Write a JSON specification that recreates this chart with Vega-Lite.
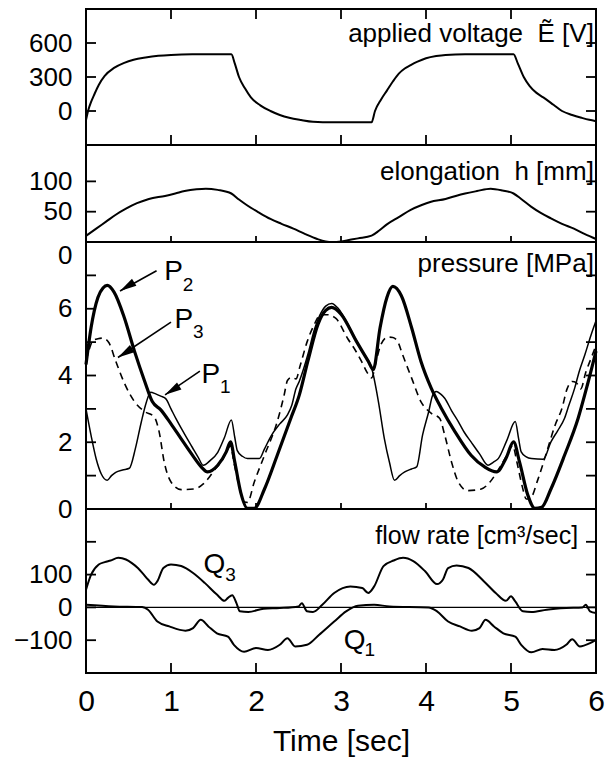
{
"$schema": "https://vega.github.io/schema/vega-lite/v6.json",
"padding": {"left": 12, "top": 8, "right": 8, "bottom": 4},
"bounds": "flush",
"spacing": 0,
"config": {
 "font": "Liberation Sans",
 "view": {"stroke": "black", "strokeWidth": 2},
 "axis": {"grid": false, "domain": false, "ticks": false, "labelColor": "black", "labelFontSize": 26, "labelPadding": 14, "labelFont": "Liberation Sans", "labelOverlap": false, "labelFlush": false, "titleColor": "black", "titleFont": "Liberation Sans", "titleFontWeight": "normal"},
 "axisX": {"labelFontSize": 30, "labelPadding": 13, "titleFontSize": 30, "titlePadding": 10, "format": "d"},
 "text": {"font": "Liberation Sans", "color": "black"},
 "tick": {"color": "black", "thickness": 1.8, "size": 20, "opacity": 1}
},
"datasets": {
 "xt": [{"v":1},{"v":2},{"v":3},{"v":4},{"v":5}],
 "vt": [{"v":0},{"v":300},{"v":600}],
 "ht": [{"v":50},{"v":100}],
 "pt": [{"v":1},{"v":2},{"v":3},{"v":4},{"v":5},{"v":6},{"v":7}],
 "qt": [{"v":-100},{"v":0},{"v":100},{"v":200}],
 "volt": [
  {"t":0,"v":-80},{"t":0.03,"v":15},{"t":0.06,"v":80},{"t":0.1,"v":150},{"t":0.15,"v":230},{"t":0.22,"v":310},{"t":0.33,"v":380},{"t":0.45,"v":425},{"t":0.56,"v":452},{"t":0.7,"v":472},{"t":0.85,"v":487},{"t":1.0,"v":495},{"t":1.25,"v":500},{"t":1.71,"v":500},
  {"t":1.75,"v":420},{"t":1.8,"v":300},{"t":1.87,"v":200},{"t":1.94,"v":120},{"t":2.05,"v":50},{"t":2.17,"v":0},{"t":2.28,"v":-35},{"t":2.39,"v":-60},{"t":2.53,"v":-80},{"t":2.67,"v":-95},{"t":2.9,"v":-100},{"t":3.36,"v":-100},
  {"t":3.4,"v":0},{"t":3.47,"v":100},{"t":3.54,"v":180},{"t":3.61,"v":260},{"t":3.68,"v":330},{"t":3.75,"v":375},{"t":3.82,"v":405},{"t":3.9,"v":435},{"t":4.0,"v":465},{"t":4.12,"v":485},{"t":4.23,"v":495},{"t":4.46,"v":500},{"t":5.03,"v":500},
  {"t":5.08,"v":420},{"t":5.15,"v":300},{"t":5.22,"v":220},{"t":5.3,"v":160},{"t":5.38,"v":120},{"t":5.5,"v":55},{"t":5.6,"v":0},{"t":5.72,"v":-35},{"t":5.83,"v":-60},{"t":5.92,"v":-78},{"t":6.0,"v":-90}
 ],
 "elong": [
  {"t":0,"h":10},{"t":0.12,"h":22},{"t":0.24,"h":34},{"t":0.35,"h":45},{"t":0.47,"h":55},{"t":0.6,"h":64},{"t":0.74,"h":71},{"t":0.93,"h":76},{"t":1.05,"h":80},{"t":1.16,"h":84},{"t":1.3,"h":87},{"t":1.41,"h":88},{"t":1.55,"h":86},{"t":1.71,"h":80},{"t":1.8,"h":70},{"t":1.89,"h":61},{"t":2.03,"h":49},{"t":2.17,"h":38},{"t":2.3,"h":30},{"t":2.44,"h":22},{"t":2.58,"h":13},{"t":2.72,"h":5},{"t":2.82,"h":1},{"t":2.9,"h":0},{"t":3.0,"h":1},{"t":3.08,"h":3},{"t":3.2,"h":6},{"t":3.36,"h":10.5},{"t":3.45,"h":19},{"t":3.54,"h":29},{"t":3.68,"h":41},{"t":3.82,"h":53},{"t":3.95,"h":61},{"t":4.05,"h":66},{"t":4.23,"h":71},{"t":4.35,"h":76},{"t":4.46,"h":80},{"t":4.6,"h":84},{"t":4.76,"h":88},{"t":4.9,"h":85},{"t":5.03,"h":80},{"t":5.12,"h":71},{"t":5.24,"h":58},{"t":5.35,"h":48},{"t":5.47,"h":39},{"t":5.6,"h":30},{"t":5.74,"h":22},{"t":5.87,"h":13},{"t":6.0,"h":5}
 ],
 "press": [
  {"s":"P2","t":0,"p":4.33},{"s":"P2","t":0.06,"p":5.44},{"s":"P2","t":0.14,"p":6.34},{"s":"P2","t":0.2,"p":6.62},{"s":"P2","t":0.25,"p":6.7},{"s":"P2","t":0.33,"p":6.5},{"s":"P2","t":0.45,"p":5.74},{"s":"P2","t":0.57,"p":4.73},{"s":"P2","t":0.69,"p":3.83},{"s":"P2","t":0.78,"p":3.22},{"s":"P2","t":0.88,"p":2.97},{"s":"P2","t":1.0,"p":2.55},{"s":"P2","t":1.12,"p":2.1},{"s":"P2","t":1.25,"p":1.62},{"s":"P2","t":1.36,"p":1.25},{"s":"P2","t":1.43,"p":1.11},{"s":"P2","t":1.55,"p":1.31},{"s":"P2","t":1.65,"p":1.71},{"s":"P2","t":1.7,"p":2.01},{"s":"P2","t":1.75,"p":1.41},{"s":"P2","t":1.82,"p":0.5},{"s":"P2","t":1.9,"p":0.02},{"s":"P2","t":1.98,"p":0.02},{"s":"P2","t":2.1,"p":0.6},{"s":"P2","t":2.25,"p":1.61},{"s":"P2","t":2.41,"p":2.72},{"s":"P2","t":2.51,"p":3.42},{"s":"P2","t":2.61,"p":4.43},{"s":"P2","t":2.73,"p":5.54},{"s":"P2","t":2.82,"p":5.95},{"s":"P2","t":2.89,"p":6.04},{"s":"P2","t":3.0,"p":5.84},{"s":"P2","t":3.18,"p":5.03},{"s":"P2","t":3.32,"p":4.43},{"s":"P2","t":3.38,"p":4.18},{"s":"P2","t":3.46,"p":5.44},{"s":"P2","t":3.54,"p":6.34},{"s":"P2","t":3.61,"p":6.67},{"s":"P2","t":3.71,"p":6.39},{"s":"P2","t":3.83,"p":5.44},{"s":"P2","t":3.94,"p":4.43},{"s":"P2","t":4.06,"p":3.63},{"s":"P2","t":4.18,"p":3.02},{"s":"P2","t":4.34,"p":2.32},{"s":"P2","t":4.53,"p":1.61},{"s":"P2","t":4.69,"p":1.26},{"s":"P2","t":4.83,"p":1.11},{"s":"P2","t":4.94,"p":1.51},{"s":"P2","t":5.03,"p":2.01},{"s":"P2","t":5.1,"p":1.41},{"s":"P2","t":5.2,"p":0.4},{"s":"P2","t":5.28,"p":0.02},{"s":"P2","t":5.36,"p":0.05},{"s":"P2","t":5.47,"p":0.6},{"s":"P2","t":5.63,"p":1.61},{"s":"P2","t":5.79,"p":2.72},{"s":"P2","t":5.9,"p":3.73},{"s":"P2","t":6.0,"p":4.73},
  {"s":"P1","t":0,"p":3.0},{"s":"P1","t":0.06,"p":2.2},{"s":"P1","t":0.12,"p":1.5},{"s":"P1","t":0.18,"p":1.05},{"s":"P1","t":0.25,"p":0.86},{"s":"P1","t":0.3,"p":1.0},{"s":"P1","t":0.35,"p":1.1},{"s":"P1","t":0.43,"p":1.17},{"s":"P1","t":0.51,"p":1.22},{"s":"P1","t":0.58,"p":1.8},{"s":"P1","t":0.65,"p":2.6},{"s":"P1","t":0.71,"p":3.2},{"s":"P1","t":0.76,"p":3.5},{"s":"P1","t":0.82,"p":3.45},{"s":"P1","t":0.88,"p":3.38},{"s":"P1","t":0.94,"p":3.3},{"s":"P1","t":1.0,"p":3.0},{"s":"P1","t":1.06,"p":2.7},{"s":"P1","t":1.12,"p":2.42},{"s":"P1","t":1.18,"p":2.15},{"s":"P1","t":1.25,"p":1.85},{"s":"P1","t":1.32,"p":1.55},{"s":"P1","t":1.38,"p":1.31},{"s":"P1","t":1.46,"p":1.45},{"s":"P1","t":1.55,"p":1.7},{"s":"P1","t":1.63,"p":2.15},{"s":"P1","t":1.71,"p":2.67},{"s":"P1","t":1.75,"p":2.15},{"s":"P1","t":1.78,"p":1.75},{"s":"P1","t":1.84,"p":1.58},{"s":"P1","t":1.9,"p":1.51},{"s":"P1","t":2.04,"p":1.51},{"s":"P1","t":2.1,"p":1.8},{"s":"P1","t":2.18,"p":2.2},{"s":"P1","t":2.28,"p":2.55},{"s":"P1","t":2.37,"p":2.82},{"s":"P1","t":2.42,"p":3.1},{"s":"P1","t":2.47,"p":3.6},{"s":"P1","t":2.51,"p":3.83},{"s":"P1","t":2.56,"p":4.2},{"s":"P1","t":2.61,"p":4.63},{"s":"P1","t":2.69,"p":5.4},{"s":"P1","t":2.75,"p":5.8},{"s":"P1","t":2.82,"p":6.08},{"s":"P1","t":2.89,"p":6.16},{"s":"P1","t":2.97,"p":6.0},{"s":"P1","t":3.08,"p":5.54},{"s":"P1","t":3.18,"p":5.05},{"s":"P1","t":3.27,"p":4.63},{"s":"P1","t":3.36,"p":4.23},{"s":"P1","t":3.44,"p":3.22},{"s":"P1","t":3.51,"p":2.11},{"s":"P1","t":3.57,"p":1.4},{"s":"P1","t":3.63,"p":0.86},{"s":"P1","t":3.69,"p":1.0},{"s":"P1","t":3.75,"p":1.11},{"s":"P1","t":3.83,"p":1.2},{"s":"P1","t":3.89,"p":1.26},{"s":"P1","t":3.96,"p":2.22},{"s":"P1","t":4.03,"p":2.9},{"s":"P1","t":4.08,"p":3.42},{"s":"P1","t":4.12,"p":3.52},{"s":"P1","t":4.17,"p":3.45},{"s":"P1","t":4.22,"p":3.32},{"s":"P1","t":4.3,"p":2.95},{"s":"P1","t":4.38,"p":2.62},{"s":"P1","t":4.45,"p":2.3},{"s":"P1","t":4.53,"p":2.01},{"s":"P1","t":4.63,"p":1.65},{"s":"P1","t":4.73,"p":1.31},{"s":"P1","t":4.79,"p":1.4},{"s":"P1","t":4.85,"p":1.51},{"s":"P1","t":4.95,"p":2.05},{"s":"P1","t":5.05,"p":2.62},{"s":"P1","t":5.09,"p":2.1},{"s":"P1","t":5.12,"p":1.71},{"s":"P1","t":5.18,"p":1.56},{"s":"P1","t":5.24,"p":1.51},{"s":"P1","t":5.38,"p":1.49},{"s":"P1","t":5.47,"p":2.01},{"s":"P1","t":5.55,"p":2.35},{"s":"P1","t":5.63,"p":2.72},{"s":"P1","t":5.68,"p":3.1},{"s":"P1","t":5.75,"p":3.63},{"s":"P1","t":5.8,"p":4.1},{"s":"P1","t":5.87,"p":4.63},{"s":"P1","t":5.94,"p":5.2},{"s":"P1","t":6.0,"p":5.64},
  {"s":"P3","t":0,"p":4.43},{"s":"P3","t":0.04,"p":4.8},{"s":"P3","t":0.08,"p":5.04},{"s":"P3","t":0.14,"p":5.1},{"s":"P3","t":0.2,"p":5.12},{"s":"P3","t":0.27,"p":4.98},{"s":"P3","t":0.35,"p":4.43},{"s":"P3","t":0.45,"p":3.78},{"s":"P3","t":0.57,"p":3.22},{"s":"P3","t":0.69,"p":2.92},{"s":"P3","t":0.8,"p":2.77},{"s":"P3","t":0.86,"p":2.32},{"s":"P3","t":0.92,"p":1.41},{"s":"P3","t":1.0,"p":0.81},{"s":"P3","t":1.12,"p":0.58},{"s":"P3","t":1.27,"p":0.6},{"s":"P3","t":1.38,"p":0.75},{"s":"P3","t":1.45,"p":0.95},{"s":"P3","t":1.52,"p":1.2},{"s":"P3","t":1.6,"p":1.45},{"s":"P3","t":1.66,"p":1.75},{"s":"P3","t":1.7,"p":1.9},{"s":"P3","t":1.74,"p":1.4},{"s":"P3","t":1.8,"p":0.7},{"s":"P3","t":1.86,"p":0.22},{"s":"P3","t":1.9,"p":0.2},{"s":"P3","t":1.98,"p":0.81},{"s":"P3","t":2.1,"p":1.61},{"s":"P3","t":2.25,"p":2.62},{"s":"P3","t":2.33,"p":3.4},{"s":"P3","t":2.37,"p":3.85},{"s":"P3","t":2.42,"p":3.95},{"s":"P3","t":2.47,"p":3.9},{"s":"P3","t":2.52,"p":4.3},{"s":"P3","t":2.6,"p":5.0},{"s":"P3","t":2.68,"p":5.5},{"s":"P3","t":2.76,"p":5.82},{"s":"P3","t":2.84,"p":5.82},{"s":"P3","t":2.94,"p":5.71},{"s":"P3","t":3.08,"p":5.1},{"s":"P3","t":3.17,"p":4.75},{"s":"P3","t":3.24,"p":4.43},{"s":"P3","t":3.31,"p":4.08},{"s":"P3","t":3.36,"p":3.93},{"s":"P3","t":3.42,"p":4.5},{"s":"P3","t":3.47,"p":4.93},{"s":"P3","t":3.55,"p":5.15},{"s":"P3","t":3.61,"p":5.14},{"s":"P3","t":3.68,"p":4.95},{"s":"P3","t":3.71,"p":4.73},{"s":"P3","t":3.83,"p":3.93},{"s":"P3","t":3.94,"p":3.22},{"s":"P3","t":4.06,"p":2.87},{"s":"P3","t":4.16,"p":2.72},{"s":"P3","t":4.22,"p":2.22},{"s":"P3","t":4.3,"p":1.41},{"s":"P3","t":4.38,"p":0.81},{"s":"P3","t":4.49,"p":0.55},{"s":"P3","t":4.65,"p":0.6},{"s":"P3","t":4.75,"p":0.8},{"s":"P3","t":4.81,"p":1.01},{"s":"P3","t":4.88,"p":1.3},{"s":"P3","t":4.95,"p":1.6},{"s":"P3","t":5.02,"p":1.9},{"s":"P3","t":5.07,"p":1.4},{"s":"P3","t":5.13,"p":0.7},{"s":"P3","t":5.18,"p":0.3},{"s":"P3","t":5.22,"p":0.3},{"s":"P3","t":5.32,"p":0.91},{"s":"P3","t":5.42,"p":1.71},{"s":"P3","t":5.52,"p":2.52},{"s":"P3","t":5.6,"p":3.02},{"s":"P3","t":5.66,"p":3.6},{"s":"P3","t":5.72,"p":3.82},{"s":"P3","t":5.77,"p":3.78},{"s":"P3","t":5.82,"p":3.6},{"s":"P3","t":5.88,"p":4.1},{"s":"P3","t":5.94,"p":4.5},{"s":"P3","t":6.0,"p":4.9}
 ],
 "flow": [
  {"s":"Q3","t":0,"q":54},{"s":"Q3","t":0.06,"q":100},{"s":"Q3","t":0.15,"q":131},{"s":"Q3","t":0.22,"q":138},{"s":"Q3","t":0.29,"q":143},{"s":"Q3","t":0.38,"q":151},{"s":"Q3","t":0.47,"q":146},{"s":"Q3","t":0.54,"q":135},{"s":"Q3","t":0.61,"q":120},{"s":"Q3","t":0.67,"q":103},{"s":"Q3","t":0.73,"q":85},{"s":"Q3","t":0.8,"q":69},{"s":"Q3","t":0.84,"q":80},{"s":"Q3","t":0.91,"q":120},{"s":"Q3","t":1.0,"q":131},{"s":"Q3","t":1.12,"q":126},{"s":"Q3","t":1.26,"q":105},{"s":"Q3","t":1.4,"q":74},{"s":"Q3","t":1.54,"q":39},{"s":"Q3","t":1.63,"q":20},{"s":"Q3","t":1.67,"q":29},{"s":"Q3","t":1.72,"q":37},{"s":"Q3","t":1.77,"q":13},{"s":"Q3","t":1.81,"q":-12},{"s":"Q3","t":1.91,"q":-14},{"s":"Q3","t":2.09,"q":-4},{"s":"Q3","t":2.28,"q":-2},{"s":"Q3","t":2.5,"q":3},{"s":"Q3","t":2.54,"q":13},{"s":"Q3","t":2.6,"q":-12},{"s":"Q3","t":2.67,"q":-14},{"s":"Q3","t":2.78,"q":8},{"s":"Q3","t":2.92,"q":44},{"s":"Q3","t":3.11,"q":64},{"s":"Q3","t":3.25,"q":59},{"s":"Q3","t":3.32,"q":44},{"s":"Q3","t":3.39,"q":64},{"s":"Q3","t":3.5,"q":126},{"s":"Q3","t":3.62,"q":143},{"s":"Q3","t":3.73,"q":151},{"s":"Q3","t":3.85,"q":141},{"s":"Q3","t":3.99,"q":110},{"s":"Q3","t":4.13,"q":71},{"s":"Q3","t":4.2,"q":85},{"s":"Q3","t":4.26,"q":120},{"s":"Q3","t":4.36,"q":128},{"s":"Q3","t":4.5,"q":120},{"s":"Q3","t":4.68,"q":80},{"s":"Q3","t":4.82,"q":44},{"s":"Q3","t":4.94,"q":20},{"s":"Q3","t":5.0,"q":34},{"s":"Q3","t":5.05,"q":18},{"s":"Q3","t":5.14,"q":-12},{"s":"Q3","t":5.24,"q":-14},{"s":"Q3","t":5.42,"q":-7},{"s":"Q3","t":5.65,"q":-2},{"s":"Q3","t":5.84,"q":0},{"s":"Q3","t":5.88,"q":8},{"s":"Q3","t":5.93,"q":-12},{"s":"Q3","t":6.0,"q":-17},
  {"s":"Q1","t":0,"q":8},{"s":"Q1","t":0.33,"q":3},{"s":"Q1","t":0.66,"q":1},{"s":"Q1","t":0.73,"q":-7},{"s":"Q1","t":0.84,"q":-43},{"s":"Q1","t":0.98,"q":-58},{"s":"Q1","t":1.17,"q":-71},{"s":"Q1","t":1.26,"q":-63},{"s":"Q1","t":1.35,"q":-38},{"s":"Q1","t":1.44,"q":-58},{"s":"Q1","t":1.54,"q":-79},{"s":"Q1","t":1.67,"q":-89},{"s":"Q1","t":1.74,"q":-114},{"s":"Q1","t":1.86,"q":-135},{"s":"Q1","t":2.0,"q":-124},{"s":"Q1","t":2.14,"q":-130},{"s":"Q1","t":2.28,"q":-114},{"s":"Q1","t":2.37,"q":-94},{"s":"Q1","t":2.46,"q":-119},{"s":"Q1","t":2.6,"q":-114},{"s":"Q1","t":2.74,"q":-84},{"s":"Q1","t":2.92,"q":-43},{"s":"Q1","t":3.06,"q":-12},{"s":"Q1","t":3.2,"q":5},{"s":"Q1","t":3.39,"q":8},{"s":"Q1","t":3.57,"q":3},{"s":"Q1","t":4.03,"q":0},{"s":"Q1","t":4.13,"q":-12},{"s":"Q1","t":4.26,"q":-43},{"s":"Q1","t":4.4,"q":-58},{"s":"Q1","t":4.54,"q":-71},{"s":"Q1","t":4.63,"q":-63},{"s":"Q1","t":4.7,"q":-38},{"s":"Q1","t":4.8,"q":-58},{"s":"Q1","t":4.91,"q":-79},{"s":"Q1","t":5.05,"q":-89},{"s":"Q1","t":5.12,"q":-114},{"s":"Q1","t":5.24,"q":-137},{"s":"Q1","t":5.37,"q":-127},{"s":"Q1","t":5.51,"q":-130},{"s":"Q1","t":5.65,"q":-114},{"s":"Q1","t":5.72,"q":-97},{"s":"Q1","t":5.81,"q":-119},{"s":"Q1","t":5.93,"q":-109},{"s":"Q1","t":6.0,"q":-99}
 ],
 "plabels": [
  {"t":1.03,"p":7.09,"txt":"P","kind":"main"},{"t":1.2,"p":6.72,"txt":"2","kind":"sub"},
  {"t":1.15,"p":5.66,"txt":"P","kind":"main"},{"t":1.32,"p":5.3,"txt":"3","kind":"sub"},
  {"t":1.47,"p":4.01,"txt":"P","kind":"main"},{"t":1.64,"p":3.65,"txt":"1","kind":"sub"}
 ],
 "arrows": [
  {"t":0.83,"p":7.14,"t2":0.40,"p2":6.53},
  {"t":1.0,"p":5.6,"t2":0.376,"p2":4.54},
  {"t":1.34,"p":4.13,"t2":0.93,"p2":3.42}
 ],
 "qlabels": [
  {"t":1.51,"q":128,"txt":"Q","kind":"main"},{"t":1.7,"q":100,"txt":"3","kind":"sub"},
  {"t":3.16,"q":-101,"txt":"Q","kind":"main"},{"t":3.34,"q":-130,"txt":"1","kind":"sub"}
 ]
},
"vconcat": [
 {
  "width": 510, "height": 136,
  "layer": [
   {"data": {"name": "volt"}, "mark": {"type": "line", "color": "black", "strokeWidth": 2, "interpolate": "monotone"},
    "encoding": {
     "x": {"field": "t", "type": "quantitative", "scale": {"domain": [0, 6]}, "axis": null},
     "y": {"field": "v", "type": "quantitative", "scale": {"domain": [-300, 900]}, "axis": {"orient": "left", "values": [0,300,600], "title": null}}
    }},
   {"data": {"name": "vt"}, "mark": {"type": "tick", "orient": "horizontal", "clip": true}, "encoding": {"y": {"field": "v", "type": "quantitative"}, "x": {"datum": 0, "type": "quantitative"}}},
   {"data": {"name": "vt"}, "mark": {"type": "tick", "orient": "horizontal", "clip": true}, "encoding": {"y": {"field": "v", "type": "quantitative"}, "x": {"datum": 6, "type": "quantitative"}}},
   {"data": {"name": "xt"}, "mark": {"type": "tick", "orient": "vertical", "clip": true}, "encoding": {"x": {"field": "v", "type": "quantitative"}, "y": {"datum": -300, "type": "quantitative"}}},
   {"data": {"name": "xt"}, "mark": {"type": "tick", "orient": "vertical", "clip": true}, "encoding": {"x": {"field": "v", "type": "quantitative"}, "y": {"datum": 900, "type": "quantitative"}}},
   {"data": {"values": [{"label": "applied voltage\u00a0 Ẽ [V]"}]}, "mark": {"type": "text", "align": "right", "baseline": "middle", "fontSize": 26},
    "encoding": {
     "text": {"field": "label"},
     "x": {"datum": 5.975, "type": "quantitative"},
     "y": {"datum": 680, "type": "quantitative"}
    }}
  ]
 },
 {
  "width": 510, "height": 97,
  "layer": [
   {"data": {"name": "elong"}, "mark": {"type": "line", "color": "black", "strokeWidth": 2, "interpolate": "monotone"},
    "encoding": {
     "x": {"field": "t", "type": "quantitative", "scale": {"domain": [0, 6]}, "axis": null},
     "y": {"field": "h", "type": "quantitative", "scale": {"domain": [0, 150]}, "axis": {"orient": "left", "values": [0,50,100], "title": null, "labelBaseline": {"condition": {"test": "datum.value == 0", "value": "top"}, "value": "middle"}}}
    }},
   {"data": {"name": "ht"}, "mark": {"type": "tick", "orient": "horizontal", "clip": true}, "encoding": {"y": {"field": "v", "type": "quantitative"}, "x": {"datum": 0, "type": "quantitative"}}},
   {"data": {"name": "ht"}, "mark": {"type": "tick", "orient": "horizontal", "clip": true}, "encoding": {"y": {"field": "v", "type": "quantitative"}, "x": {"datum": 6, "type": "quantitative"}}},
   {"data": {"name": "xt"}, "mark": {"type": "tick", "orient": "vertical", "size": 12, "clip": true}, "encoding": {"x": {"field": "v", "type": "quantitative"}, "y": {"datum": 0, "type": "quantitative"}}},
   {"data": {"values": [{"label": "elongation\u00a0 h [mm]"}]}, "mark": {"type": "text", "align": "right", "baseline": "middle", "fontSize": 26},
    "encoding": {
     "text": {"field": "label"},
     "x": {"datum": 5.975, "type": "quantitative"},
     "y": {"datum": 116, "type": "quantitative"}
    }}
  ]
 },
 {
  "width": 510, "height": 267,
  "layer": [
   {"data": {"name": "press"}, "transform": [{"filter": "datum.s == 'P1'"}], "mark": {"type": "line", "color": "black", "strokeWidth": 1.5, "interpolate": "monotone"},
    "encoding": {
     "x": {"field": "t", "type": "quantitative", "scale": {"domain": [0, 6]}, "axis": null},
     "y": {"field": "p", "type": "quantitative", "scale": {"domain": [0, 8]}, "axis": {"orient": "left", "values": [0,2,4,6], "title": null}}
    }},
   {"data": {"name": "press"}, "transform": [{"filter": "datum.s == 'P2'"}], "mark": {"type": "line", "color": "black", "strokeWidth": 3.2, "interpolate": "monotone"},
    "encoding": {"x": {"field": "t", "type": "quantitative"}, "y": {"field": "p", "type": "quantitative"}}},
   {"data": {"name": "press"}, "transform": [{"filter": "datum.s == 'P3'"}], "mark": {"type": "line", "color": "black", "strokeWidth": 1.6, "strokeDash": [7, 5], "interpolate": "monotone"},
    "encoding": {"x": {"field": "t", "type": "quantitative"}, "y": {"field": "p", "type": "quantitative"}}},
   {"data": {"name": "pt"}, "mark": {"type": "tick", "orient": "horizontal", "clip": true}, "encoding": {"y": {"field": "v", "type": "quantitative"}, "x": {"datum": 0, "type": "quantitative"}}},
   {"data": {"name": "pt"}, "mark": {"type": "tick", "orient": "horizontal", "clip": true}, "encoding": {"y": {"field": "v", "type": "quantitative"}, "x": {"datum": 6, "type": "quantitative"}}},
   {"data": {"name": "xt"}, "mark": {"type": "tick", "orient": "vertical", "size": 12, "clip": true}, "encoding": {"x": {"field": "v", "type": "quantitative"}, "y": {"datum": 0, "type": "quantitative"}}},
   {"data": {"name": "arrows"}, "mark": {"type": "rule", "color": "black", "strokeWidth": 1.6},
    "encoding": {
     "x": {"field": "t", "type": "quantitative"},
     "y": {"field": "p", "type": "quantitative"},
     "x2": {"field": "t2"}, "y2": {"field": "p2"}
    }},
   {"data": {"name": "arrows"}, "mark": {"type": "point", "filled": true, "color": "black", "opacity": 1, "shape": "M0,0L0.5,2L-0.5,2Z", "size": 280, "angle": 238},
    "encoding": {
     "x": {"field": "t2", "type": "quantitative"},
     "y": {"field": "p2", "type": "quantitative"}
    }},
   {"data": {"name": "plabels"}, "mark": {"type": "text", "align": "center", "baseline": "middle"},
    "encoding": {
     "text": {"field": "txt"},
     "x": {"field": "t", "type": "quantitative"},
     "y": {"field": "p", "type": "quantitative"},
     "size": {"field": "kind", "type": "nominal", "scale": {"domain": ["main","sub"], "range": [28, 19]}, "legend": null}
    }},
   {"data": {"values": [{"label": "pressure [MPa]"}]}, "mark": {"type": "text", "align": "right", "baseline": "middle", "fontSize": 26},
    "encoding": {
     "text": {"field": "label"},
     "x": {"datum": 5.975, "type": "quantitative"},
     "y": {"datum": 7.34, "type": "quantitative"}
    }}
  ]
 },
 {
  "width": 510, "height": 164,
  "layer": [
   {"data": {"name": "flow"}, "mark": {"type": "line", "color": "black", "strokeWidth": 2, "interpolate": "monotone"},
    "encoding": {
     "x": {"field": "t", "type": "quantitative", "scale": {"domain": [0, 6]}, "axis": {"orient": "bottom", "title": "Time [sec]", "values": [0,1,2,3,4,5,6]}},
     "y": {"field": "q", "type": "quantitative", "scale": {"domain": [-200, 300]}, "axis": {"orient": "left", "values": [-100,0,100], "title": null}},
     "detail": {"field": "s"}
    }},
   {"data": {"values": [{}]}, "mark": {"type": "rule", "color": "black", "strokeWidth": 1.3},
    "encoding": {"y": {"datum": 0, "type": "quantitative"}}},
   {"data": {"name": "qt"}, "mark": {"type": "tick", "orient": "horizontal", "clip": true}, "encoding": {"y": {"field": "v", "type": "quantitative"}, "x": {"datum": 0, "type": "quantitative"}}},
   {"data": {"name": "qt"}, "mark": {"type": "tick", "orient": "horizontal", "clip": true}, "encoding": {"y": {"field": "v", "type": "quantitative"}, "x": {"datum": 6, "type": "quantitative"}}},
   {"data": {"name": "xt"}, "mark": {"type": "tick", "orient": "vertical", "clip": true}, "encoding": {"x": {"field": "v", "type": "quantitative"}, "y": {"datum": -200, "type": "quantitative"}}},
   {"data": {"name": "qlabels"}, "mark": {"type": "text", "align": "center", "baseline": "middle"},
    "encoding": {
     "text": {"field": "txt"},
     "x": {"field": "t", "type": "quantitative"},
     "y": {"field": "q", "type": "quantitative"},
     "size": {"field": "kind", "type": "nominal", "scale": {"domain": ["main","sub"], "range": [28, 19]}, "legend": null}
    }},
   {"data": {"values": [{"label": "flow rate [cm³/sec]"}]}, "mark": {"type": "text", "align": "right", "baseline": "middle", "fontSize": 25},
    "encoding": {
     "text": {"field": "label"},
     "x": {"datum": 5.79, "type": "quantitative"},
     "y": {"datum": 218, "type": "quantitative"}
    }}
  ]
 }
]
}
